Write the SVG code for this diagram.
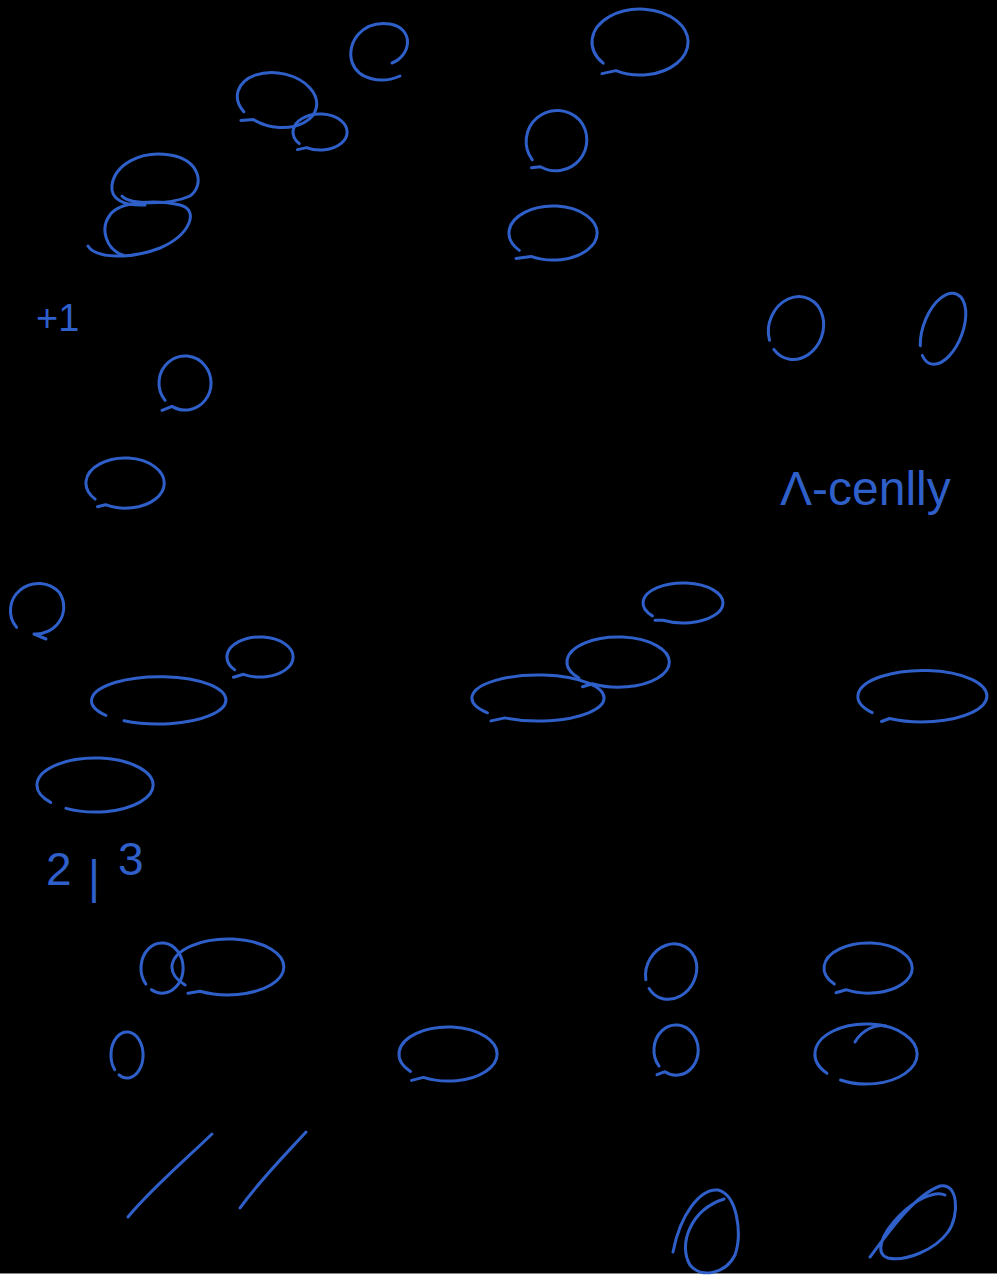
<svg xmlns="http://www.w3.org/2000/svg" width="997" height="1279" viewBox="0 0 997 1279">
<style>
.s{fill:none;stroke:#2f5fc9;stroke-width:3;stroke-linecap:round;stroke-linejoin:round}
.t{fill:#2f5fc9;font-family:"Liberation Sans","DejaVu Sans",sans-serif}
</style>
<rect x="0" y="0" width="997" height="1279" fill="#ffffff"/>
<rect x="0" y="0" width="997" height="1273" fill="#000000"/>
<line x1="0" y1="1273.5" x2="997" y2="1273.5" stroke="#888888" stroke-width="1"/>
<g id="loops">
<path class="s" d="M392,63 C412,55 414,28 390,24 C363,20 346,42 352,62 C358,80 382,84 400,76"/>
<path class="s" transform="rotate(10 277 100)" d="M246.4,117.4 A40 27 0 0 1 307.6,82.6 A40 27 0 0 1 257,123.4 l-12,3"/>
<path class="s" d="M299.3,143.6 A27 18 0 0 1 340.7,120.4 A27 18 0 0 1 306.5,147.6 l-9,2"/>
<path class="s" d="M603.2,63.2 A48 33 0 0 1 676.8,20.8 A48 33 0 0 1 616,70.6 l-14,3"/>
<path class="s" d="M532.3,159.9 A31 31 0 0 1 579.7,120.1 A31 31 0 0 1 540.5,166.8 l-9,1"/>
<path class="s" d="M519.3,250.4 A44 27 0 0 1 586.7,215.6 A44 27 0 0 1 531,256.4 l-15,2"/>
<path class="s" d="M122,196 C130,205 170,205 190,196 C205,185 200,160 170,155 C140,150 115,165 112,185 C110,200 125,206 145,205"/>
<path class="s" d="M88,246 C95,258 130,260 160,248 C190,235 200,210 180,205 C160,200 120,200 110,215 C100,228 105,250 125,256"/>
<path class="s" d="M165.1,400.4 A26 27 0 0 1 204.9,365.6 A26 27 0 0 1 172,406.4 l-10,4"/>
<path class="s" d="M95.1,499.1 A39 25 0 0 1 154.9,466.9 A39 25 0 0 1 105.5,504.7 l-8,2"/>
<path class="s" transform="rotate(20 796 328)" d="M775.3,348.6 A27 32 0 0 1 816.7,307.4 A27 32 0 0 1 782.5,355.7"/>
<path class="s" transform="rotate(20 943 328)" d="M927.7,352.4 A20 38 0 0 1 958.3,303.6 A20 38 0 0 1 933,360.9"/>
<path class="s" d="M16.6,627.4 A28 27 0 0 1 59.4,592.6 A28 27 0 0 1 34,634 l12,5"/>
<path class="s" d="M234.7,669.9 A33 20 0 0 1 285.3,644.1 A33 20 0 0 1 243.5,674.3 l-10,3"/>
<path class="s" d="M105.9,715.4 A68 24 0 0 1 210.1,684.6 A68 24 0 0 1 124,720.8"/>
<path class="s" d="M50.6,802.4 A58 27 0 0 1 139.4,767.6 A58 27 0 0 1 66,808.4"/>
<path class="s" d="M652.4,615.9 A40 20 0 0 1 713.6,590.1 A40 20 0 0 1 663,620.3 l-8,0"/>
<path class="s" d="M578.9,678.1 A51 25 0 0 1 657.1,645.9 A51 25 0 0 1 592.5,683.7 l-10,3"/>
<path class="s" d="M487.4,712.8 A66 23 0 0 1 588.6,683.2 A66 23 0 0 1 505,717.9 l-14,3"/>
<path class="s" d="M872.2,712.7 A65 26 0 0 1 971.8,679.3 A65 26 0 0 1 889.5,718.5 l-8,3"/>
<path class="s" d="M145.9,984.1 A21 25 0 0 1 178.1,951.9 A21 25 0 0 1 151.5,989.7"/>
<path class="s" d="M185.1,985 A56 28 0 0 1 270.9,949 A56 28 0 0 1 200,991.2 l-12,2"/>
<path class="s" d="M114.7,1069.8 A16 23 0 0 1 139.3,1040.2 A16 23 0 0 1 119,1074.9"/>
<path class="s" d="M410.5,1071.4 A49 27 0 0 1 485.5,1036.6 A49 27 0 0 1 423.5,1077.4 l-12,3"/>
<path class="s" transform="rotate(25 671 971)" d="M651.9,989.6 A25 29 0 0 1 690.2,952.4 A25 29 0 0 1 658.5,996.1"/>
<path class="s" d="M834.3,984.1 A44 25 0 0 1 901.7,951.9 A44 25 0 0 1 846,989.7 l-10,3"/>
<path class="s" d="M659.1,1066.1 A22 25 0 0 1 692.9,1033.9 A22 25 0 0 1 665,1071.7 l-8,3"/>
<path class="s" d="M826.9,1073.3 A51 30 0 0 1 905.1,1034.7 A51 30 0 0 1 840.5,1080"/>
<path class="s" d="M855,1042 C862,1030 875,1024 886,1026"/>
<path class="s" d="M128,1217 C150,1190 185,1160 212,1134"/>
<path class="s" d="M240,1208 C260,1180 285,1155 306,1132"/>
<path class="s" d="M673,1252 C680,1215 700,1188 718,1190 C738,1195 742,1235 735,1255 C725,1275 700,1278 690,1265 C678,1245 690,1210 724,1199"/>
<path class="s" d="M870,1257 C890,1230 915,1195 940,1186 C958,1182 960,1215 948,1232 C935,1250 905,1262 888,1258 C875,1254 880,1235 900,1215 C915,1200 935,1190 945,1195"/>
</g>
<g id="labels">
<text class="t" x="36" y="331" font-size="38">+1</text>
<text class="t" x="780" y="505" font-size="48">Λ-cenlly</text>
<text class="t" font-size="46"><tspan x="46" y="885">2</tspan><tspan x="88" y="893">|</tspan><tspan x="118" y="875">3</tspan></text>
</g>
</svg>
